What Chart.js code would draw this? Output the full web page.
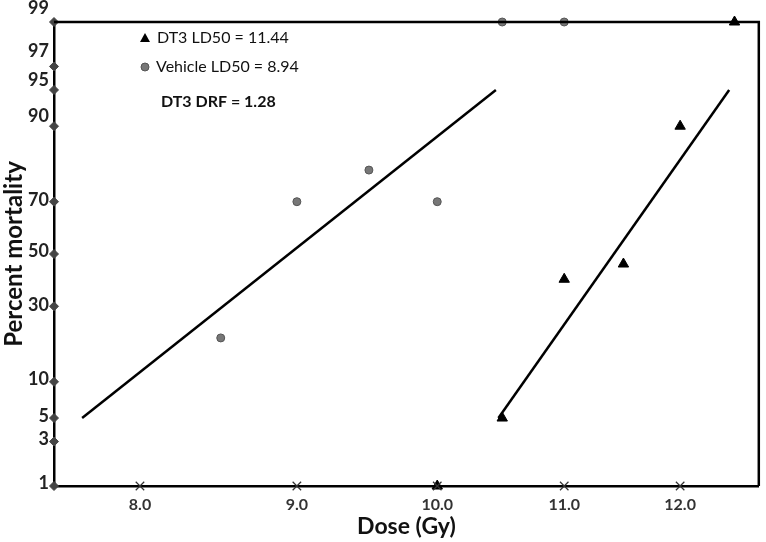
<!DOCTYPE html>
<html>
<head>
<meta charset="utf-8">
<script src="https://cdn.jsdelivr.net/npm/chart.js@4.4.0/dist/chart.umd.min.js"></script>
<style>
  body { margin: 0; background: #fff; }
  #wrap { width: 766px; height: 542px; }
</style>
</head>
<body>
<div id="wrap"><canvas id="myChart"></canvas></div>
<script>
// Data (percent mortality vs dose)
const vehicleDose = [8.5, 9.0, 9.5, 10.0, 10.5, 11.0];
const vehicleMort = [20, 70, 80, 70, 99, 99];
const dt3Dose = [10.0, 10.5, 11.0, 11.5, 12.0, 12.5];
const dt3Mort = [1, 5, 40, 46, 90, 99];

// probit fit lines, 5% to 95%
const vehicleFitDose = [7.66, 10.45];
const dt3FitDose = [10.47, 12.45];
const fitMort = [5, 95];

// axes
const yTicks = [1, 3, 5, 10, 30, 50, 70, 90, 95, 97, 99];
const xTicks = [8.0, 9.0, 10.0, 11.0, 12.0];
const legendLines = ['DT3 LD50 = 11.44', 'Vehicle LD50 = 8.94', 'DT3 DRF = 1.28'];

// the y labels in the original sit a bit above their marks (px)
const yLabelNudge = [-3, -2, -2, -3, -1, -3, -2, -10, -10, -15, -14];

// inverse normal cdf (Acklam) -> probit scale for the y axis
function probit(pct) {
  const p = pct / 100;
  const a = [-39.69683028665376, 220.9460984245205, -275.9285104469687, 138.357751867269, -30.66479806614716, 2.506628277459239];
  const b = [-54.47609879822406, 161.5858368580409, -155.6989798598866, 66.80131188771972, -13.28068155211639];
  const c = [-0.007784894002430293, -0.3223964580411365, -2.400758277161838, -2.549732539343734, 4.374664141464968, 2.938163982698783];
  const d = [0.007784695709041462, 0.3224671290700398, 2.445134137142996, 3.754408661907416];
  const pl = 0.02425;
  let q, r;
  if (p < pl) {
    q = Math.sqrt(-2 * Math.log(p));
    return (((((c[0]*q+c[1])*q+c[2])*q+c[3])*q+c[4])*q+c[5]) / ((((d[0]*q+d[1])*q+d[2])*q+d[3])*q+1);
  }
  if (p > 1 - pl) {
    q = Math.sqrt(-2 * Math.log(1 - p));
    return -(((((c[0]*q+c[1])*q+c[2])*q+c[3])*q+c[4])*q+c[5]) / ((((d[0]*q+d[1])*q+d[2])*q+d[3])*q+1);
  }
  q = p - 0.5; r = q * q;
  return (((((a[0]*r+a[1])*r+a[2])*r+a[3])*r+a[4])*r+a[5])*q / (((((b[0]*r+b[1])*r+b[2])*r+b[3])*r+b[4])*r+1);
}

const pts = (xs, ys) => xs.map((x, i) => ({ x: x, y: probit(ys[i]) }));
const xMin = 7.5, xMax = 12.73;

// box around plot, y labels, legend text
const frame = {
  id: 'frame',
  afterDatasetsDraw(chart) {
    const { ctx, chartArea: a } = chart;
    const ys = chart.scales.y;
    ctx.save();
    ctx.strokeStyle = '#000';
    ctx.lineWidth = 2.5;
    ctx.beginPath();
    ctx.moveTo(a.left, a.top);
    ctx.lineTo(a.right, a.top);
    ctx.lineTo(a.right, a.bottom);
    ctx.stroke();

    // y tick labels
    ctx.fillStyle = '#222';
    ctx.font = 'bold 18px Lato';
    ctx.textAlign = 'right';
    ctx.textBaseline = 'middle';
    yTicks.forEach((p, i) => {
      ctx.fillText(String(p), a.left - 5, ys.getPixelForValue(probit(p)) + yLabelNudge[i]);
    });

    // legend
    ctx.textAlign = 'left';
    const x0 = a.left + 91, y0 = a.top + 16;
    ctx.fillStyle = '#000';
    ctx.beginPath();
    ctx.moveTo(x0, y0 - 5); ctx.lineTo(x0 + 5, y0 + 4); ctx.lineTo(x0 - 5, y0 + 4);
    ctx.closePath(); ctx.fill();
    ctx.fillStyle = '#777';
    ctx.strokeStyle = '#555';
    ctx.lineWidth = 1;
    ctx.beginPath();
    ctx.arc(x0, y0 + 29, 4, 0, Math.PI * 2);
    ctx.fill(); ctx.stroke();

    ctx.fillStyle = '#111';
    ctx.font = '16px Lato';
    ctx.fillText(legendLines[0], x0 + 12, y0);
    ctx.fillText(legendLines[1], x0 + 11, y0 + 29);
    ctx.font = 'bold 16px Lato';
    ctx.fillText(legendLines[2], x0 + 16, y0 + 64);
    ctx.restore();
  }
};

const ctx = document.getElementById('myChart').getContext('2d');
const myChart = new Chart(ctx, {
  type: 'scatter',
  data: {
    datasets: [
      {
        label: 'y axis marks',
        data: yTicks.map(p => ({ x: xMin, y: probit(p) })),
        pointStyle: 'rectRot', pointRadius: 4.5,
        backgroundColor: '#444', borderColor: '#444', clip: false
      },
      {
        label: 'x axis marks',
        data: xTicks.map(d => ({ x: d, y: probit(1) })),
        pointStyle: 'crossRot', pointRadius: 6,
        borderColor: '#333', borderWidth: 1.2, clip: false
      },
      {
        label: 'Vehicle fit',
        data: pts(vehicleFitDose, fitMort),
        showLine: true, borderColor: '#000', borderWidth: 2.5, pointRadius: 0
      },
      {
        label: 'DT3 fit',
        data: pts(dt3FitDose, fitMort),
        showLine: true, borderColor: '#000', borderWidth: 2.5, pointRadius: 0
      },
      {
        label: 'Vehicle',
        data: pts(vehicleDose, vehicleMort),
        pointStyle: 'circle', pointRadius: 4,
        backgroundColor: '#777', borderColor: '#555', borderWidth: 1, clip: false
      },
      {
        label: 'DT3',
        data: pts(dt3Dose, dt3Mort),
        pointStyle: 'triangle', pointRadius: 6,
        backgroundColor: '#000', borderColor: '#000', borderWidth: 1, clip: false
      }
    ]
  },
  options: {
    responsive: true,
    maintainAspectRatio: false,
    animation: false,
    layout: { padding: { top: 22, right: 4, left: 0, bottom: 0 } },
    plugins: {
      legend: { display: false },
      tooltip: { enabled: false }
    },
    scales: {
      x: {
        type: 'logarithmic',
        min: xMin, max: xMax,
        afterBuildTicks(scale) { scale.ticks = xTicks.map(v => ({ value: v })); },
        afterFit(scale) { scale.height = 56; },
        grid: { display: false, drawTicks: false },
        border: { display: true, color: '#000', width: 2.5 },
        ticks: {
          color: '#333', padding: 9,
          font: { family: 'Lato', size: 16, weight: 'bold' },
          callback: v => Number(v).toFixed(1)
        },
        title: {
          display: true, text: 'Dose (Gy)', color: '#111',
          font: { family: 'Lato', size: 23, weight: 'bold' },
          padding: { top: 0, bottom: 2 }
        }
      },
      y: {
        type: 'linear',
        min: probit(1), max: probit(99),
        afterBuildTicks(scale) { scale.ticks = yTicks.map(p => ({ value: probit(p) })); },
        afterFit(scale) { scale.width = 54; },
        grid: { display: false, drawTicks: false },
        border: { display: true, color: '#000', width: 2.5 },
        ticks: { display: false },
        title: {
          display: true, text: 'Percent mortality', color: '#111',
          font: { family: 'Lato', size: 24, weight: 'bold' },
          padding: { top: 0, bottom: 0 }
        }
      }
    }
  },
  plugins: [frame]
});
</script>
</body>
</html>
